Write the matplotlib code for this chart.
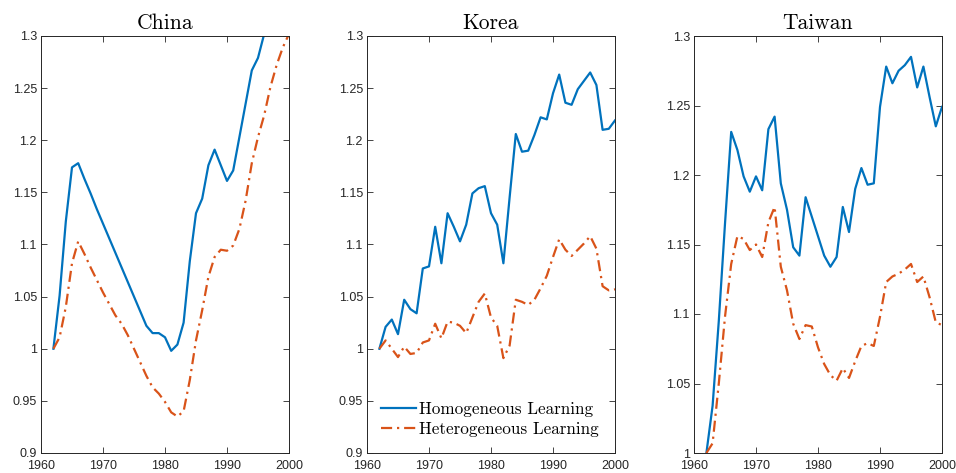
import matplotlib
matplotlib.use("Agg")
import matplotlib.pyplot as plt
from matplotlib.ticker import FixedLocator, FixedFormatter

years = list(range(1962, 2001))

china_hom = [1.000, 1.051, 1.122, 1.174, 1.178, 1.163, 1.149, 1.134, 1.120, 1.106,
             1.092, 1.078, 1.064, 1.050, 1.036, 1.022, 1.015, 1.015, 1.011, 0.998,
             1.004, 1.025, 1.084, 1.130, 1.144, 1.176, 1.191, 1.176, 1.161, 1.171,
             1.203, 1.235, 1.267, 1.279, 1.302, 1.325, 1.345, 1.365, 1.385]
china_het = [1.000, 1.011, 1.040, 1.082, 1.103, 1.091, 1.078, 1.066, 1.054, 1.043,
             1.032, 1.024, 1.013, 1.000, 0.987, 0.974, 0.963, 0.957, 0.949, 0.939,
             0.935, 0.940, 0.970, 1.008, 1.037, 1.069, 1.088, 1.095, 1.094, 1.099,
             1.115, 1.142, 1.178, 1.203, 1.224, 1.251, 1.272, 1.289, 1.302]

korea_hom = [1.000, 1.021, 1.028, 1.014, 1.047, 1.038, 1.034, 1.077, 1.079, 1.117,
             1.082, 1.130, 1.117, 1.103, 1.119, 1.149, 1.154, 1.156, 1.130, 1.119,
             1.082, 1.145, 1.206, 1.189, 1.190, 1.205, 1.222, 1.220, 1.245, 1.263,
             1.236, 1.234, 1.249, 1.257, 1.265, 1.253, 1.210, 1.211, 1.219]
korea_het = [1.000, 1.008, 1.000, 0.992, 1.002, 0.995, 0.996, 1.006, 1.008, 1.024,
             1.010, 1.026, 1.025, 1.022, 1.015, 1.030, 1.045, 1.053, 1.030, 1.022,
             0.991, 1.003, 1.047, 1.045, 1.042, 1.047, 1.058, 1.070, 1.088, 1.105,
             1.095, 1.089, 1.095, 1.101, 1.108, 1.096, 1.060, 1.056, 1.057]

taiwan_hom = [1.000, 1.034, 1.095, 1.165, 1.231, 1.218, 1.199, 1.188, 1.199, 1.189,
              1.233, 1.242, 1.194, 1.175, 1.148, 1.142, 1.184, 1.170, 1.156, 1.142,
              1.134, 1.141, 1.177, 1.159, 1.190, 1.205, 1.193, 1.194, 1.249, 1.278,
              1.266, 1.275, 1.279, 1.285, 1.263, 1.278, 1.256, 1.235, 1.249]
taiwan_het = [1.000, 1.007, 1.050, 1.098, 1.136, 1.156, 1.154, 1.146, 1.150, 1.141,
              1.166, 1.177, 1.134, 1.117, 1.093, 1.082, 1.092, 1.091, 1.076, 1.064,
              1.056, 1.052, 1.061, 1.054, 1.066, 1.077, 1.079, 1.077, 1.098, 1.123,
              1.127, 1.129, 1.132, 1.136, 1.123, 1.127, 1.112, 1.094, 1.092]

titles = ["China", "Korea", "Taiwan"]
series = [(china_hom, china_het), (korea_hom, korea_het), (taiwan_hom, taiwan_het)]
ylims = [(0.9, 1.3), (0.9, 1.3), (1.0, 1.3)]
xticks = [1960, 1970, 1980, 1990, 2000]
yticks_a = [0.9, 0.95, 1.0, 1.05, 1.1, 1.15, 1.2, 1.25, 1.3]
ylabels_a = ["0.9", "0.95", "1", "1.05", "1.1", "1.15", "1.2", "1.25", "1.3"]
yticks_b = [1.0, 1.05, 1.1, 1.15, 1.2, 1.25, 1.3]
ylabels_b = ["1", "1.05", "1.1", "1.15", "1.2", "1.25", "1.3"]
labels = ["Homogeneous Learning", "Heterogeneous Learning"]

blue = "#0072BD"
orange = "#D95319"
gray = "#262626"

W, H = 956, 473
fig = plt.figure(figsize=(W / 100, H / 100), dpi=100)
lefts = [41, 367, 694]
for i in range(3):
    ax = fig.add_axes([lefts[i] / W, 1 - 453 / H, 248 / W, (453 - 36) / H])
    hom, het = series[i]
    ax.plot(years, hom, color=blue, lw=1.6, label=labels[0])
    ax.plot(years, het, color=orange, lw=1.6, ls=(0, (5, 2.2, 1, 2.2)), label=labels[1])
    ax.set_xlim(1960, 2000)
    ax.set_ylim(*ylims[i])
    ax.xaxis.set_major_locator(FixedLocator(xticks))
    ax.set_xticklabels([str(x) for x in xticks])
    if i < 2:
        ax.yaxis.set_major_locator(FixedLocator(yticks_a))
        ax.yaxis.set_major_formatter(FixedFormatter(ylabels_a))
    else:
        ax.yaxis.set_major_locator(FixedLocator(yticks_b))
        ax.yaxis.set_major_formatter(FixedFormatter(ylabels_b))
    ax.tick_params(direction="in", length=4, width=0.6, top=True, right=True,
                   colors=gray, labelsize=9)
    ax.tick_params(axis="x", pad=5)
    ax.tick_params(axis="y", pad=3)
    for lab in ax.get_xticklabels() + ax.get_yticklabels():
        lab.set_family("Liberation Sans")
    for s in ax.spines.values():
        s.set_color(gray)
        s.set_linewidth(0.7)
    ax.set_title(titles[i], family="cmr10", fontsize=15.5, pad=5)
    if i == 1:
        leg = ax.legend(loc="lower left", frameon=False, prop={"family": "cmr10", "size": 12.3},
                        handlelength=2.0, handletextpad=0.2, borderaxespad=0.15,
                        labelspacing=0.3, bbox_to_anchor=(0.02, 0.015))

fig.savefig("out.png", dpi=100)
